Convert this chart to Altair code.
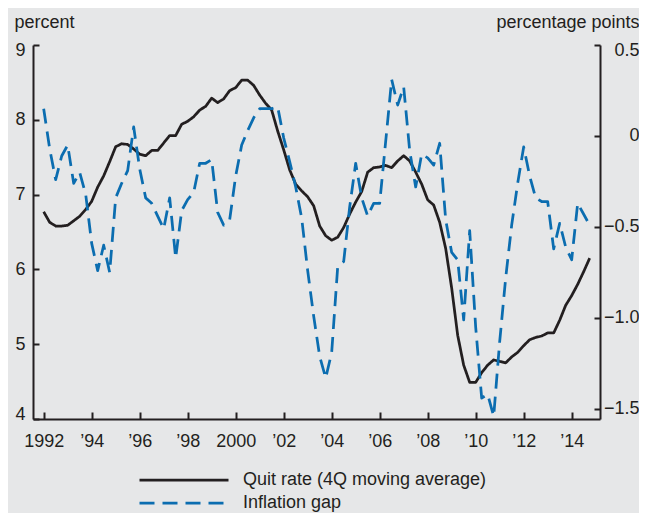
import altair as alt
import pandas as pd

# ---------------- data ----------------
first_year = 1992  # quarterly observations, 1992:Q1 - 2014:Q4

quit_rate = [
    6.77, 6.63, 6.58, 6.58, 6.59, 6.65, 6.71, 6.80,
    6.91, 7.10, 7.25, 7.44, 7.64, 7.68, 7.67, 7.61,
    7.54, 7.52, 7.59, 7.59, 7.69, 7.79, 7.79, 7.94,
    7.98, 8.04, 8.13, 8.18, 8.29, 8.23, 8.28, 8.39,
    8.43, 8.53, 8.53, 8.46, 8.33, 8.22, 8.13, 7.85,
    7.60, 7.33, 7.14, 7.05, 6.97, 6.85, 6.58, 6.45,
    6.39, 6.43, 6.56, 6.74, 6.90, 7.04, 7.30, 7.36,
    7.37, 7.39, 7.36, 7.45, 7.52, 7.45, 7.30, 7.14,
    6.93, 6.86, 6.63, 6.28, 5.75, 5.12, 4.72, 4.49,
    4.49, 4.62, 4.72, 4.79, 4.77, 4.75, 4.83, 4.89,
    4.98, 5.06, 5.09, 5.11, 5.15, 5.15, 5.32, 5.52,
    5.65, 5.80, 5.97, 6.15,
]

inflation_gap = [
    0.15, -0.07, -0.24, -0.11, -0.05, -0.26, -0.20, -0.32,
    -0.59, -0.74, -0.60, -0.75, -0.34, -0.26, -0.19, 0.05,
    -0.18, -0.34, -0.37, -0.44, -0.51, -0.34, -0.67, -0.41,
    -0.35, -0.31, -0.15, -0.15, -0.13, -0.42, -0.49, -0.46,
    -0.22, -0.05, 0.03, 0.10, 0.15, 0.15, 0.15, 0.16,
    -0.01, -0.14, -0.28, -0.45, -0.74, -0.99, -1.21, -1.33,
    -1.19, -0.72, -0.69, -0.39, -0.15, -0.34, -0.44, -0.37,
    -0.37, -0.03, 0.31, 0.17, 0.27, -0.08, -0.28, -0.10,
    -0.12, -0.16, -0.04, -0.46, -0.64, -0.68, -1.01, -0.52,
    -1.05, -1.44, -1.42, -1.54, -1.13, -0.78, -0.49, -0.26,
    -0.06, -0.22, -0.34, -0.36, -0.36, -0.62, -0.48, -0.61,
    -0.68, -0.37, -0.43, -0.49,
]

series_names = ["Quit rate (4Q moving average)", "Inflation gap"]

x_tick_values = [1992, 1994, 1996, 1998, 2000, 2002, 2004, 2006, 2008, 2010, 2012, 2014]
x_tick_labels = ["1992", "\u201994", "\u201996", "\u201998", "2000", "\u201902",
                 "\u201904", "\u201906", "\u201908", "\u201910", "\u201912", "\u201914"]
left_tick_values = [4, 5, 6, 7, 8, 9]
right_tick_values = [0.5, 0, -0.5, -1.0, -1.5]
right_tick_labels = ["0.5", "0", "\u22120.5", "\u22121.0", "\u22121.5"]

left_title = "percent"
right_title = "percentage points"

# ---------------- build table ----------------
dates = [first_year + i / 4 for i in range(len(quit_rate))]
quit_df = pd.DataFrame({"date": dates, "value": quit_rate, "series": series_names[0]})
gap_df = pd.DataFrame({"date": dates, "value": inflation_gap, "series": series_names[1]})

# ---------------- styling ----------------
INK = "#231f20"
BLUE = "#0b6db0"
BG = "#e6e7e8"
FONT = "Liberation Sans"
FS = 18

X_DOMAIN = [1991.555, 2015.18]
LEFT_DOMAIN = [4, 9]
RIGHT_DOMAIN = [-1.555, 0.5]
W, H = 567, 374


def js_list(items, quote=False):
    if quote:
        return "[" + ",".join("'" + s + "'" for s in items) + "]"
    return "[" + ",".join(repr(float(v)) for v in items) + "]"


x_label_expr = f"{js_list(x_tick_labels, True)}[indexof({js_list(x_tick_values)}, datum.value)]"
r_label_expr = f"{js_list(right_tick_labels, True)}[indexof({js_list(right_tick_values)}, datum.value)]"

x_scale = alt.Scale(domain=X_DOMAIN, nice=False, zero=False)
left_scale = alt.Scale(domain=LEFT_DOMAIN, nice=False, zero=False)
right_scale = alt.Scale(domain=RIGHT_DOMAIN, nice=False, zero=False)

legend = alt.Legend(
    title=None, orient="none", legendX=105, legendY=423.5, direction="vertical",
    symbolType="stroke", symbolSize=7921, symbolStrokeWidth=2.75,
    clipHeight=23, rowPadding=0, labelOffset=13, labelFontSize=FS,
    labelFont=FONT, labelColor=INK, padding=0, labelLimit=0,
)
color_enc = alt.Color("series:N", scale=alt.Scale(domain=series_names, range=[INK, BLUE]),
                      legend=legend, sort=series_names)
dash_enc = alt.StrokeDash("series:N", scale=alt.Scale(domain=series_names, range=[[1, 0], [15, 8]]),
                          legend=legend, sort=series_names)

quit_line = alt.Chart(quit_df).mark_line(strokeWidth=2.75, strokeJoin="round").encode(
    x=alt.X("date:Q", scale=x_scale, axis=alt.Axis(
        orient="bottom", values=x_tick_values, labelExpr=x_label_expr, ticks=False, tickSize=0,
        domain=True, labelPadding=13, labelFlush=False, title=None, grid=False)),
    y=alt.Y("value:Q", scale=left_scale, axis=alt.Axis(
        orient="left", values=left_tick_values, ticks=False, tickSize=0, domain=True,
        labelPadding=8, labelFlush=True, labelFlushOffset=4, grid=False,
        title=left_title, titleAngle=0, titleAlign="left", titleBaseline="alphabetic",
        titleX=-19, titleY=-18)),
    color=color_enc,
    strokeDash=dash_enc,
)

gap_line = alt.Chart(gap_df).mark_line(strokeWidth=2.75, strokeJoin="round").encode(
    x=alt.X("date:Q", scale=x_scale, axis=None),
    y=alt.Y("value:Q", scale=right_scale, axis=alt.Axis(
        orient="right", values=right_tick_values, labelExpr=r_label_expr, ticks=False, tickSize=0,
        domain=True, labelAlign="right", labelPadding=39, labelFlush=True, labelFlushOffset=4,
        grid=False, title=right_title, titleAngle=0, titleAlign="right",
        titleBaseline="alphabetic", titleX=39, titleY=-18)),
    color=color_enc,
    strokeDash=dash_enc,
)

# inward-pointing ticks
quit_ticks = alt.Chart(quit_df).mark_line(opacity=0).encode(
    x=alt.X("date:Q", scale=x_scale, axis=alt.Axis(
        orient="top", offset=-H, values=x_tick_values, labels=False, domain=False,
        ticks=True, tickSize=7, grid=False, title=None)),
    y=alt.Y("value:Q", scale=left_scale, axis=alt.Axis(
        orient="right", offset=-W, values=left_tick_values, labels=False, domain=False,
        ticks=True, tickSize=6, grid=False, title=None)),
)

gap_ticks = alt.Chart(gap_df).mark_line(opacity=0).encode(
    x=alt.X("date:Q", scale=x_scale, axis=None),
    y=alt.Y("value:Q", scale=right_scale, axis=alt.Axis(
        orient="left", offset=-W, values=right_tick_values, labels=False, domain=False,
        ticks=True, tickSize=6, grid=False, title=None)),
)

chart = alt.layer(quit_line, gap_line, quit_ticks, gap_ticks).resolve_scale(
    y="independent"
).resolve_axis(
    x="independent"
).properties(
    width=W, height=H,
    padding={"left": 25, "top": 37, "right": 39, "bottom": 94},
    autosize=alt.AutoSizeParams(type="none"),
    background=BG,
).configure_view(
    stroke=None
).configure_axis(
    labelFont=FONT, labelFontSize=FS, labelColor=INK,
    titleFont=FONT, titleFontSize=FS, titleColor=INK, titleFontWeight="normal",
    domainColor=INK, domainWidth=2, tickColor=INK, tickWidth=2,
)

chart.save("out.html", embed_options={"renderer": "svg", "actions": False})
